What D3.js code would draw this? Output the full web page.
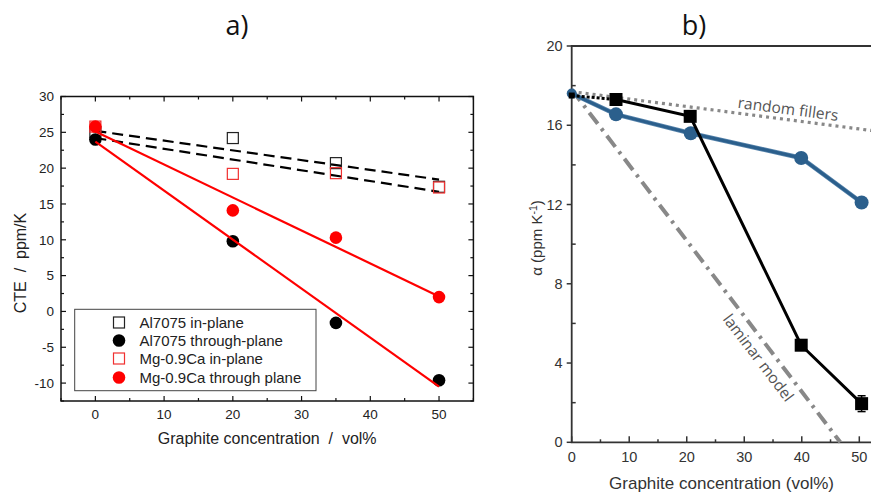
<!DOCTYPE html>
<html><head><meta charset="utf-8">
<script src="https://cdn.jsdelivr.net/npm/d3@7"></script>
<style>body{margin:0;background:#fff}svg{display:block}</style>
</head><body>
<svg id="c" width="871" height="493"></svg>
<script>
// ---------- Panel a data ----------
const aX = [0, 20, 35, 50];
const alInPlane = [25.0, 24.2, 20.7, 17.4];
const alThrough = [24.0, 9.8, -1.6, -9.6];
const mgInPlane = [25.8, 19.2, 19.3, 17.3];
const mgThrough = [25.8, 14.1, 10.3, 2.0];
// fitted lines [x0, y0, x1, y1]
const fitInUpper = [0, 25.2, 50, 18.4];
const fitInLower = [0, 24.2, 50, 16.7];
const fitMgThrough = [0, 25.1, 50, 2.1];
const fitAlThrough = [0, 23.7, 50, -10.5];
const aXTicks = [0, 10, 20, 30, 40, 50];
const aYTicks = [-10, -5, 0, 5, 10, 15, 20, 25, 30];
const legendLabels = ["Al7075 in-plane", "Al7075 through-plane", "Mg-0.9Ca in-plane", "Mg-0.9Ca through plane"];

// ---------- Panel b data ----------
const bBlueX = [0, 7.7, 20.7, 39.9, 50.4];
const bBlueY = [17.6, 16.55, 15.6, 14.35, 12.1];
const bBlackX = [0, 7.7, 20.6, 39.9, 50.4];
const bBlackY = [17.5, 17.3, 16.45, 4.9, 1.95];
const bBlackErr = [0, 0, 0, 0, 0.4];
const randomFillers = [[0, 17.7], [53, 15.7]];
const laminarModel = [[0, 17.8], [46.7, 0]];
const bXTicks = [0, 10, 20, 30, 40, 50];
const bYTicks = [0, 4, 8, 12, 16, 20];

const svg = d3.select("#c");
const FA = "Liberation Sans, Arial, sans-serif";

// ================= Panel a =================
const ax = d3.scaleLinear().domain([-5, 55]).range([61, 473.4]);
const ay = d3.scaleLinear().domain([-12.5, 30]).range([401, 96.5]);
const ga = svg.append("g");

// frame
ga.append("rect").attr("x", ax(-5)).attr("y", ay(30)).attr("width", ax(55) - ax(-5)).attr("height", ay(-12.5) - ay(30))
  .attr("fill", "none").attr("stroke", "#111").attr("stroke-width", 1.5);

// ticks inward
const ayMinor = d3.range(-12.5, 30.01, 2.5);
ayMinor.forEach(v => {
  const major = Math.abs(v % 5) < 1e-9;
  const L = major ? 5 : 3;
  ga.append("line").attr("x1", ax(-5)).attr("x2", ax(-5) + L).attr("y1", ay(v)).attr("y2", ay(v)).attr("stroke", "#111").attr("stroke-width", 1.2);
  ga.append("line").attr("x1", ax(55)).attr("x2", ax(55) - L).attr("y1", ay(v)).attr("y2", ay(v)).attr("stroke", "#111").attr("stroke-width", 1.2);
});
d3.range(-5, 55.01, 5).forEach(v => {
  const major = Math.abs(v % 10) < 1e-9;
  const L = major ? 5 : 3;
  ga.append("line").attr("x1", ax(v)).attr("x2", ax(v)).attr("y1", ay(-12.5)).attr("y2", ay(-12.5) - L).attr("stroke", "#111").attr("stroke-width", 1.2);
  ga.append("line").attr("x1", ax(v)).attr("x2", ax(v)).attr("y1", ay(30)).attr("y2", ay(30) + L).attr("stroke", "#111").attr("stroke-width", 1.2);
});
aYTicks.forEach(v => ga.append("text").attr("x", ax(-5) - 7).attr("y", ay(v)).attr("dy", "0.35em").attr("text-anchor", "end")
  .attr("font-family", FA).attr("font-size", 13.5).attr("fill", "#222").text(v));
aXTicks.forEach(v => ga.append("text").attr("x", ax(v)).attr("y", ay(-12.5) + 18).attr("text-anchor", "middle")
  .attr("font-family", FA).attr("font-size", 13.5).attr("fill", "#222").text(v));
ga.append("text").attr("x", (ax(-5) + ax(55)) / 2).attr("y", 443.5).attr("text-anchor", "middle")
  .attr("font-family", FA).attr("font-size", 16).attr("fill", "#222").attr("xml:space", "preserve").text("Graphite concentration  /  vol%");
ga.append("text").attr("transform", `translate(25.5,263) rotate(-90)`).attr("text-anchor", "middle")
  .attr("font-family", FA).attr("font-size", 16).attr("fill", "#222").attr("xml:space", "preserve").text("CTE  /  ppm/K");

// fit lines
const fl = (f, col, dash) => ga.append("line").attr("x1", ax(f[0])).attr("y1", ay(f[1])).attr("x2", ax(f[2])).attr("y2", ay(f[3]))
  .attr("stroke", col).attr("stroke-width", 2.2).attr("stroke-dasharray", dash || null);
fl(fitInUpper, "#000", "11,6");
fl(fitInLower, "#000", "11,6");

// markers
const sq = 11, rr = 6.3;
aX.forEach((x, i) => {
  ga.append("rect").attr("x", ax(x) - sq / 2).attr("y", ay(alInPlane[i]) - sq / 2).attr("width", sq).attr("height", sq)
    .attr("fill", "none").attr("stroke", "#222").attr("stroke-width", 1.2);
});
aX.forEach((x, i) => {
  ga.append("circle").attr("cx", ax(x)).attr("cy", ay(alThrough[i])).attr("r", rr).attr("fill", "#000");
});
aX.forEach((x, i) => {
  ga.append("rect").attr("x", ax(x) - sq / 2).attr("y", ay(mgInPlane[i]) - sq / 2).attr("width", sq).attr("height", sq)
    .attr("fill", "none").attr("stroke", "#f03030").attr("stroke-width", 1.2);
});
aX.forEach((x, i) => {
  ga.append("circle").attr("cx", ax(x)).attr("cy", ay(mgThrough[i])).attr("r", rr).attr("fill", "#f00");
});
fl(fitMgThrough, "#f00");
fl(fitAlThrough, "#f00");

// legend
const lg = ga.append("g");
lg.append("rect").attr("x", 74.7).attr("y", 309.3).attr("width", 241.3).attr("height", 81.4)
  .attr("fill", "#fff").attr("stroke", "#444").attr("stroke-width", 1);
const ly = [322.5, 340.5, 358.5, 377.5];
legendLabels.forEach((t, i) => {
  const cx = 119, cy = ly[i];
  if (i === 0 || i === 2) {
    lg.append("rect").attr("x", cx - sq / 2).attr("y", cy - sq / 2).attr("width", sq).attr("height", sq)
      .attr("fill", "none").attr("stroke", i === 0 ? "#222" : "#f03030").attr("stroke-width", 1.2);
  } else {
    lg.append("circle").attr("cx", cx).attr("cy", cy).attr("r", rr).attr("fill", i === 1 ? "#000" : "#f00");
  }
  lg.append("text").attr("x", 139.5).attr("y", cy).attr("dy", "0.36em").attr("font-family", FA).attr("font-size", 15)
    .attr("fill", "#222").text(t);
});

// panel title
svg.append("text").attr("x", 237).attr("y", 35).attr("text-anchor", "middle").attr("font-family", "Open Sans, Noto Sans, sans-serif")
  .attr("font-size", 27).attr("fill", "#111").text("a)");

// ================= Panel b =================
const bx = d3.scaleLinear().domain([0, 50]).range([571.7, 859.3]);
const by = d3.scaleLinear().domain([0, 20]).range([442.3, 46]);
const gb = svg.append("g");
const AX = "#333";
// frame (right side beyond view)
gb.append("path").attr("d", `M${bx(55)},${by(20)}H${bx(0)}V${by(0)}H${bx(55)}`).attr("fill", "none").attr("stroke", AX).attr("stroke-width", 1.8);
d3.range(0, 20.01, 2).forEach(v => {
  const major = v % 4 === 0;
  if (major) gb.append("line").attr("x1", bx(0) - 5).attr("x2", bx(0)).attr("y1", by(v)).attr("y2", by(v)).attr("stroke", AX).attr("stroke-width", 1.5);
  else gb.append("line").attr("x1", bx(0)).attr("x2", bx(0) + 4).attr("y1", by(v)).attr("y2", by(v)).attr("stroke", AX).attr("stroke-width", 1.5);
});
d3.range(0, 52.01, 5).forEach(v => {
  const major = v % 10 === 0;
  gb.append("line").attr("x1", bx(v)).attr("x2", bx(v)).attr("y1", by(0)).attr("y2", by(0) - (major ? 6 : 3)).attr("stroke", AX).attr("stroke-width", 1.5);
});
bYTicks.forEach(v => gb.append("text").attr("x", bx(0) - 9).attr("y", by(v)).attr("dy", "0.35em").attr("text-anchor", "end")
  .attr("font-family", FA).attr("font-size", 14.5).attr("fill", "#333").text(v));
bXTicks.forEach(v => gb.append("text").attr("x", bx(v)).attr("y", by(0) + 20).attr("text-anchor", "middle")
  .attr("font-family", FA).attr("font-size", 14.5).attr("fill", "#333").text(v));
gb.append("text").attr("x", 721.5).attr("y", 489).attr("text-anchor", "middle")
  .attr("font-family", FA).attr("font-size", 17).attr("fill", "#333").text("Graphite concentration (vol%)");
const yl = gb.append("text").attr("transform", `translate(542,${238}) rotate(-90)`).attr("text-anchor", "middle")
  .attr("font-family", FA).attr("font-size", 15).attr("fill", "#333");
yl.append("tspan").text("α (ppm K");
yl.append("tspan").attr("dy", -5).attr("font-size", 10.5).text("-1");
yl.append("tspan").attr("dy", 5).text(")");

// model lines
const line = d3.line().x(d => bx(d[0])).y(d => by(d[1]));
gb.append("path").attr("d", line(randomFillers)).attr("fill", "none").attr("stroke", "#888").attr("stroke-width", 3.2).attr("stroke-dasharray", "3,4");
gb.append("path").attr("d", line(laminarModel)).attr("fill", "none").attr("stroke", "#888").attr("stroke-width", 4).attr("stroke-dasharray", "14,6,3,6");

// labels on model lines
const rfAng = Math.atan2(by(randomFillers[1][1]) - by(randomFillers[0][1]), bx(randomFillers[1][0]) - bx(randomFillers[0][0])) * 180 / Math.PI;
gb.append("text").attr("transform", `translate(${bx(37.5)},${by(16.55)}) rotate(${rfAng})`).attr("text-anchor", "middle")
  .attr("font-family", "Open Sans, Noto Sans, sans-serif").attr("font-size", 15.5).attr("fill", "#555").text("random fillers");
const lmAng = Math.atan2(by(laminarModel[1][1]) - by(laminarModel[0][1]), bx(laminarModel[1][0]) - bx(laminarModel[0][0])) * 180 / Math.PI;
gb.append("text").attr("transform", `translate(${bx(31.7)},${by(4.1)}) rotate(${lmAng})`).attr("text-anchor", "middle")
  .attr("font-family", "Open Sans, Noto Sans, sans-serif").attr("font-size", 15.5).attr("fill", "#555").text("laminar model");

// blue series
const blue = "#2b5f8c";
const bluePts = bBlueX.map((x, i) => [x, bBlueY[i]]);
gb.append("path").attr("d", line(bluePts)).attr("fill", "none").attr("stroke", "#5a86ad").attr("stroke-width", 4.5);
gb.append("path").attr("d", line(bluePts)).attr("fill", "none").attr("stroke", blue).attr("stroke-width", 3);
bluePts.forEach((p, i) => gb.append("circle").attr("cx", bx(p[0])).attr("cy", by(p[1])).attr("r", i === 0 ? 5 : 7).attr("fill", blue));

// black series
const blackPts = bBlackX.map((x, i) => [x, bBlackY[i]]);
gb.append("path").attr("d", line(blackPts.slice(0, 2))).attr("fill", "none").attr("stroke", "#000").attr("stroke-width", 3).attr("stroke-dasharray", "3,2");
gb.append("path").attr("d", line(blackPts.slice(1))).attr("fill", "none").attr("stroke", "#000").attr("stroke-width", 3);
blackPts.forEach((p, i) => {
  if (bBlackErr[i] > 0) {
    gb.append("line").attr("x1", bx(p[0])).attr("x2", bx(p[0])).attr("y1", by(p[1] - bBlackErr[i])).attr("y2", by(p[1] + bBlackErr[i])).attr("stroke", "#000").attr("stroke-width", 1.5);
    [p[1] - bBlackErr[i], p[1] + bBlackErr[i]].forEach(e => gb.append("line").attr("x1", bx(p[0]) - 4).attr("x2", bx(p[0]) + 4).attr("y1", by(e)).attr("y2", by(e)).attr("stroke", "#000").attr("stroke-width", 1.5));
  }
  const s = i === 0 ? 6 : 13;
  gb.append("rect").attr("x", bx(p[0]) - s / 2).attr("y", by(p[1]) - s / 2).attr("width", s).attr("height", s).attr("fill", "#000");
});

svg.append("text").attr("x", 694).attr("y", 35).attr("text-anchor", "middle").attr("font-family", "Open Sans, Noto Sans, sans-serif")
  .attr("font-size", 27).attr("fill", "#111").text("b)");
</script>
</body></html>
